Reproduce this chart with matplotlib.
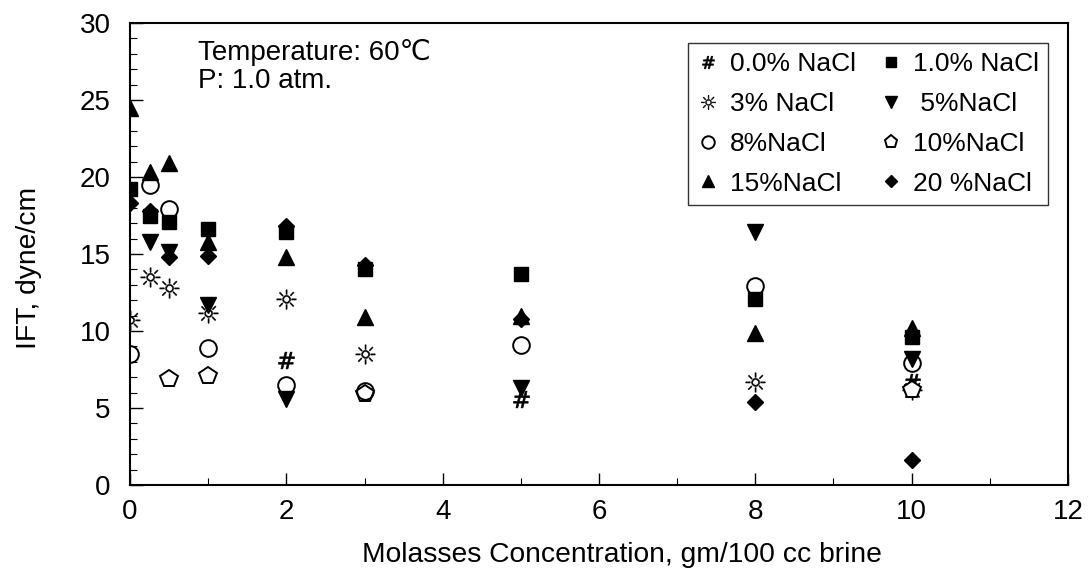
import matplotlib
matplotlib.use("Agg")
import matplotlib.pyplot as plt
from matplotlib.ticker import MultipleLocator

plt.rcParams['font.family'] = ['Liberation Sans', 'DejaVu Sans']
plt.rcParams['mathtext.fontset'] = 'dejavusans'

# ---- data ----
x0 = [2, 5, 10]
y0 = [8.1, 5.6, 6.7]
x1 = [0, 0.25, 0.5, 1, 2, 3, 5, 8, 10]
y1 = [19.2, 17.5, 17.1, 16.6, 16.4, 14.0, 13.7, 12.1, 9.6]
x3 = [0, 0.25, 0.5, 1, 2, 3, 8, 10]
y3 = [10.7, 13.5, 12.8, 11.2, 12.1, 8.5, 6.7, 6.2]
x5 = [0.25, 0.5, 1, 2, 5, 8, 10]
y5 = [15.8, 15.1, 11.7, 5.6, 6.3, 16.4, 8.2]
x8 = [0, 0.25, 0.5, 1, 2, 3, 5, 8, 10]
y8 = [8.5, 19.5, 17.9, 8.9, 6.5, 6.1, 9.1, 12.9, 7.9]
x10 = [0.5, 1, 3, 10]
y10 = [6.9, 7.1, 5.9, 6.2]
x15 = [0, 0.25, 0.5, 1, 2, 3, 5, 8, 10]
y15 = [24.5, 20.3, 20.9, 15.8, 14.8, 10.9, 11.0, 9.9, 10.2]
x20 = [0, 0.25, 0.5, 1, 2, 3, 5, 8, 10]
y20 = [18.3, 17.8, 14.8, 14.9, 16.8, 14.3, 10.8, 5.4, 1.6]

labels = ["0.0% NaCl", "1.0% NaCl", "3% NaCl", " 5%NaCl",
          "8%NaCl", "10%NaCl", "15%NaCl", "20 %NaCl"]

fig = plt.figure(figsize=(10.89, 5.78), dpi=100)
ax = fig.add_axes([0.1194, 0.1609, 0.8613, 0.7993])

h = {}
h['s0'] = ax.plot(x0, y0, ls='none', marker=r'$\#$', ms=12, color='black', mew=0.5)[0]
h['s3'] = ax.plot(x3, y3, ls='none', marker='$☼$', ms=14, color='black', mew=0.3)[0]
h['s10'] = ax.plot(x10, y10, ls='none', marker='p', ms=13, mfc='white', mec='black', mew=1.4)[0]
h['s8'] = ax.plot(x8, y8, ls='none', marker='o', ms=12, mfc='none', mec='black', mew=1.4)[0]
h['s20'] = ax.plot(x20, y20, ls='none', marker='D', ms=8, color='black')[0]
h['s15'] = ax.plot(x15, y15, ls='none', marker='^', ms=11, color='black')[0]
h['s5'] = ax.plot(x5, y5, ls='none', marker='v', ms=11, color='black')[0]
h['s1'] = ax.plot(x1, y1, ls='none', marker='s', ms=10, color='black')[0]

ax.set_xlim(0, 12)
ax.set_ylim(0, 30)
ax.xaxis.set_major_locator(MultipleLocator(2))
ax.xaxis.set_minor_locator(MultipleLocator(1))
ax.yaxis.set_major_locator(MultipleLocator(5))
ax.yaxis.set_minor_locator(MultipleLocator(1))
ax.tick_params(which='both', direction='in', top=False, right=False, labelsize=20)
ax.tick_params(axis='x', which='both', pad=10)
ax.tick_params(axis='y', which='both', pad=14)
ax.tick_params(which='major', length=9, width=1)
ax.tick_params(which='minor', length=5, width=0.8)
for s in ax.spines.values():
    s.set_linewidth(1.5)

ax.set_xlabel("Molasses Concentration, gm/100 cc brine", fontsize=20.3)
ax.set_ylabel("IFT, dyne/cm", fontsize=20.3)
ax.xaxis.set_label_coords(0.5245, -0.152, transform=ax.transAxes)
ax.yaxis.set_label_coords(-0.108, 0.47, transform=ax.transAxes)
ax.xaxis.label.set_va('center')
ax.yaxis.label.set_va('center')

ax.text(0.072, 0.965, "Temperature: 60℃\nP: 1.0 atm.", transform=ax.transAxes,
        fontsize=20, va='top', ha='left', linespacing=1.1)

order = ['s0', 's3', 's8', 's15', 's1', 's5', 's10', 's20']
lab_order = [labels[0], labels[2], labels[4], labels[6],
             labels[1], labels[3], labels[5], labels[7]]
leg = ax.legend([h[k] for k in order], lab_order, ncol=2, loc='upper right',
                bbox_to_anchor=(0.979, 0.957), fontsize=19, frameon=True,
                fancybox=False, edgecolor='black', markerscale=0.75,
                handlelength=0.8, handletextpad=0.45, columnspacing=0.9,
                labelspacing=0.6, borderpad=0.35, borderaxespad=0)
leg.get_frame().set_linewidth(1.0)

fig.savefig("out.png", dpi=100)
